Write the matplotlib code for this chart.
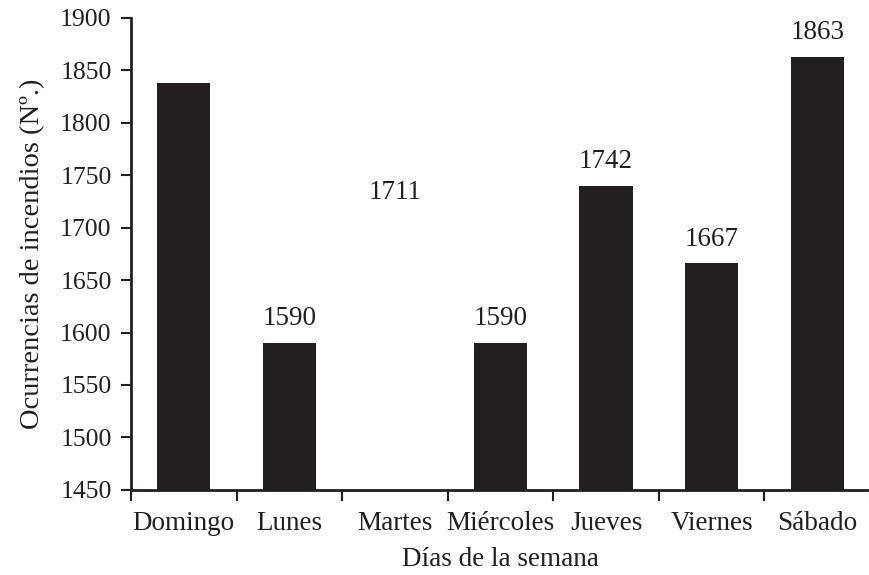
import numpy as np
import matplotlib
matplotlib.use("Agg")
from matplotlib import pyplot as plt

# datos
dias = ["Domingo", "Lunes", "Martes", "Miércoles", "Jueves", "Viernes", "Sábado"]
ocurrencias = [1838, 1590, 1711, 1590, 1740, 1666, 1863]
etiquetas = ["", "1590", "1711", "1590", "1742", "1667", "1863"]
y_ticks = [1450, 1500, 1550, 1600, 1650, 1700, 1750, 1800, 1850, 1900]

plt.rcParams['font.family'] = ['Liberation Serif', 'DejaVu Serif']
negro = '#231f20'

fig = plt.figure(figsize=(8.7, 5.75), dpi=100)
ax = fig.add_axes([0.1506, 0.148, 0.8494, 0.821])

x = np.arange(len(dias))
colores = [negro] * len(dias)
colores[2] = 'white'  # la barra de Martes no se ve en el original
ax.bar(x, np.array(ocurrencias) - 1450, bottom=1450, width=0.505, color=colores)

for xi, v, t in zip(x, ocurrencias, etiquetas):
    ax.text(xi, v + 11, t, ha='center', va='bottom', fontsize=19.5, color=negro)

ax.set_ylim(1450, 1900)
ax.set_yticks(y_ticks)
ax.set_xlim(-0.5, 6.43)
ax.set_xticks(x)
ax.set_xticklabels(dias)
# ticks del eje x entre categorias
ax.set_xticks(np.arange(-0.5, 7, 1), minor=True)
ax.tick_params(axis='x', which='major', length=0, pad=15, labelsize=19.5, labelcolor=negro)
ax.tick_params(axis='x', which='minor', length=8, width=1.5, direction='out', color=negro)
ax.tick_params(axis='y', length=7, width=1.5, direction='out', labelsize=18.5, pad=7,
               color=negro, labelcolor=negro)

for s in ['top', 'right']:
    ax.spines[s].set_visible(False)
for s in ['left', 'bottom']:
    ax.spines[s].set_linewidth(2)
    ax.spines[s].set_color(negro)

ax.set_xlabel('Días de la semana', fontsize=19.5, labelpad=8, color=negro)
ax.set_ylabel('Ocurrencias de incendios (Nº.)', fontsize=20.5, labelpad=11, color=negro)

fig.savefig('out.png', dpi=100)
